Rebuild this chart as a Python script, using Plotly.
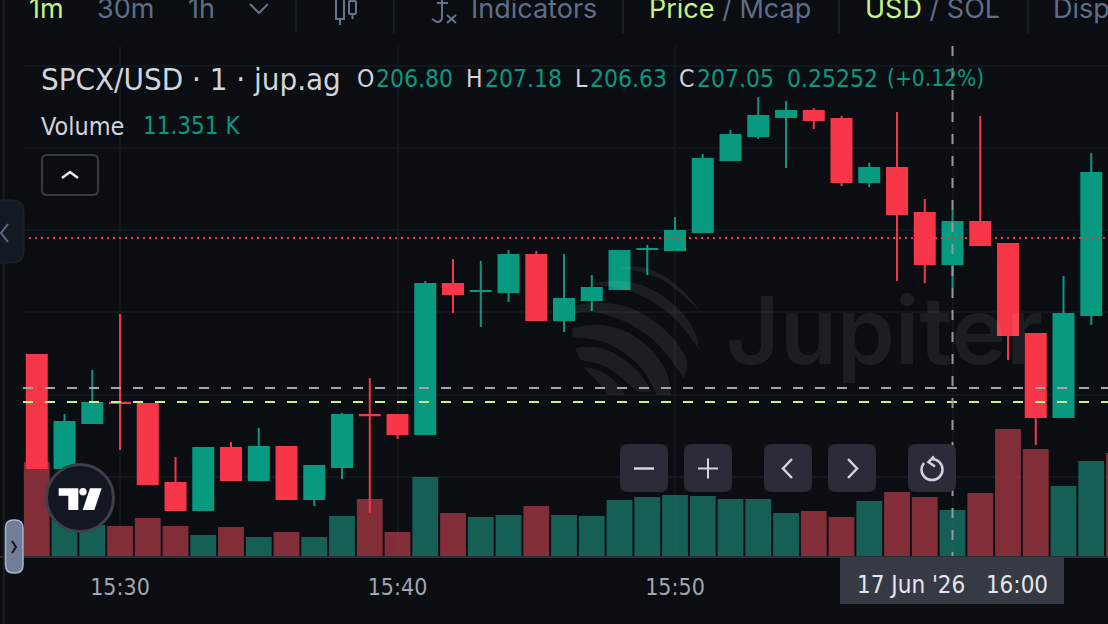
import pandas as pd
import plotly.graph_objects as go

W = 1108
PLOT_H = 556

BG = '#0a0d12'
GREEN = '#089981'
RED = '#f63649'
LIME = '#c7f284'
GREY = '#5f6e87'
LABEL = '#d1d4dc'
FONT = 'DejaVu Sans Condensed, DejaVu Sans'

# 1 minute candles, 15:27 to 16:05
times = pd.date_range('2026-06-17 15:27', periods=39, freq='min')
opens = [206.258, 205.586, 205.854, 205.974, 205.967, 205.496, 205.336, 205.705, 205.514, 205.711,
         205.401, 205.592, 205.901, 205.901, 205.788, 206.681, 206.639, 206.633, 206.854, 206.467,
         206.586, 206.651, 206.889, 206.883, 206.990, 207.419, 207.562, 207.675, 207.711, 207.663,
         207.288, 207.371, 207.104, 206.800, 207.050, 206.919, 206.383, 205.889, 206.496]
highs = [206.258, 205.907, 206.169, 206.502, 205.967, 205.651, 205.705, 205.740, 205.824, 205.711,
         205.598, 205.913, 206.121, 205.901, 206.699, 206.830, 206.818, 206.883, 206.877, 206.860,
         206.734, 206.877, 206.913, 207.080, 207.455, 207.598, 207.794, 207.770, 207.729, 207.681,
         207.401, 207.705, 207.187, 207.121, 207.681, 206.919, 206.383, 206.729, 207.461]
lows = [205.586, 205.586, 205.854, 205.693, 205.490, 205.336, 205.336, 205.514, 205.514, 205.401,
        205.360, 205.520, 205.318, 205.758, 205.788, 206.508, 206.425, 206.574, 206.467, 206.395,
        206.520, 206.651, 206.734, 206.883, 206.990, 207.419, 207.544, 207.371, 207.604, 207.264,
        207.258, 206.699, 206.687, 206.657, 206.913, 206.229, 205.723, 205.889, 206.437]
closes = [205.586, 205.860, 205.973, 205.973, 205.490, 205.336, 205.705, 205.514, 205.711, 205.401,
          205.598, 205.901, 205.900, 205.788, 206.681, 206.621, 206.640, 206.854, 206.467, 206.592,
          206.657, 206.877, 206.890, 206.996, 207.425, 207.568, 207.681, 207.711, 207.657, 207.288,
          207.371, 207.098, 206.800, 207.050, 206.913, 206.377, 205.889, 206.502, 207.342]

# volume in thousands, one more bar than candles (16:06 is cut by the right edge)
vol_times = pd.date_range('2026-06-17 15:27', periods=40, freq='min')
volumes = [23.2, 10.1, 7.65, 7.40, 9.38, 7.40, 5.18, 7.16, 4.69, 5.92,
           4.69, 9.87, 14.07, 5.92, 19.50, 10.61, 9.63, 10.12, 12.34, 10.12,
           9.87, 13.82, 14.56, 15.05, 14.81, 14.07, 14.07, 10.61, 11.11, 9.63,
           13.57, 15.80, 14.56, 11.351, 15.55, 31.34, 26.41, 17.28, 23.45, 25.42]
vol_up = [c >= o for o, c in zip(opens, closes)] + [False]

grid_prices = [207.979, 207.490, 207.002, 206.514, 206.020, 205.532]
grid_times = ['2026-06-17 15:30', '2026-06-17 15:40', '2026-06-17 15:50', '2026-06-17 16:00']
# 16:00 sits in the crosshair label instead
grid_labels = ['15:30', '15:40', '15:50', '']

last_price = 206.955
line_grey = 206.062
line_lime = 205.979
cross_time = '2026-06-17 16:00'


def P(x, y):
    return f'{x / W:.5f},{(PLOT_H - y) / PLOT_H:.5f}'


def rrect(x0, y0, x1, y1, r):
    return (f'M {P(x0 + r, y0)} L {P(x1 - r, y0)} Q {P(x1, y0)} {P(x1, y0 + r)} '
            f'L {P(x1, y1 - r)} Q {P(x1, y1)} {P(x1 - r, y1)} '
            f'L {P(x0 + r, y1)} Q {P(x0, y1)} {P(x0, y1 - r)} '
            f'L {P(x0, y0 + r)} Q {P(x0, y0)} {P(x0 + r, y0)} Z')


def poly(pts, close=False):
    s = 'M ' + ' L '.join(P(x, y) for x, y in pts)
    return s + ' Z' if close else s


def smooth(pts, start='M'):
    s = f'{start} {P(*pts[0])}'
    for a, b in zip(pts[1:-1], pts[2:]):
        m = ((a[0] + b[0]) / 2, (a[1] + b[1]) / 2)
        s += f' Q {P(*a)} {P(*m)}'
    return s + f' L {P(*pts[-1])}'


def band(outer, inner):
    o = [(560 + x / 3, 250 + y / 3) for x, y in outer]
    i = [(560 + x / 3, 250 + y / 3) for x, y in inner]
    return smooth(o) + ' ' + smooth(i, 'L') + ' Z'


shapes = []


def add_path(path, fill=None, line=None, width=0):
    shapes.append(dict(type='path', xref='paper', yref='paper', path=path, layer='above',
                       fillcolor=fill or 'rgba(0,0,0,0)',
                       line=dict(color=line or 'rgba(0,0,0,0)', width=width)))


def add_rect(x0, y0, x1, y1, fill):
    shapes.append(dict(type='rect', xref='paper', yref='paper', layer='above', fillcolor=fill,
                       x0=x0 / W, x1=x1 / W, y0=(PLOT_H - y0) / PLOT_H, y1=(PLOT_H - y1) / PLOT_H,
                       line=dict(width=0)))


# covers so the grid stops where it does in the app
add_rect(0, 0, 23, 556, BG)
add_rect(23, 0, W, 46, BG)

# watermark logo
WM = 'rgba(255,255,255,0.07)'
add_path(band([(175, 52), (235, 45), (310, 72), (380, 130), (425, 190)],
              [(425, 190), (340, 105), (260, 68), (175, 52)]), WM)
add_path(band([(85, 102), (165, 85), (270, 110), (360, 175), (410, 250), (417, 300)],
              [(417, 300), (370, 225), (290, 160), (190, 112), (85, 102)]), WM)
add_path(band([(45, 165), (120, 152), (230, 175), (320, 240), (375, 310), (385, 350), (370, 385)],
              [(370, 385), (320, 305), (240, 235), (150, 195), (85, 183), (45, 190)]), WM)
add_path(band([(36, 235), (100, 218), (200, 240), (280, 300), (325, 370), (333, 435)],
              [(290, 435), (265, 375), (200, 310), (120, 268), (38, 262)]), WM)
add_path(band([(45, 295), (95, 285), (170, 310), (235, 360), (275, 425)],
              [(230, 425), (180, 375), (120, 340), (60, 330)]), WM)
add_path(band([(70, 352), (115, 355), (170, 395), (195, 435)],
              [(145, 435), (110, 392)]), WM)

# price lines
shapes.append(dict(type='line', xref='paper', yref='y2', x0=29 / W, x1=1, y0=last_price, y1=last_price,
                   layer='above', line=dict(color='#f23645', width=2, dash='2px,4px')))
shapes.append(dict(type='line', xref='paper', yref='y2', x0=23 / W, x1=1, y0=line_grey, y1=line_grey,
                   layer='above', line=dict(color='#a2a5ad', width=2, dash='10px,12px')))
shapes.append(dict(type='line', xref='paper', yref='y2', x0=23 / W, x1=1, y0=line_lime, y1=line_lime,
                   layer='above', line=dict(color=LIME, width=2, dash='10px,12px')))
# crosshair
shapes.append(dict(type='line', xref='x', yref='paper', x0=cross_time, x1=cross_time,
                   y0=(PLOT_H - 46) / PLOT_H, y1=0, layer='above',
                   line=dict(color='#9598a1', width=2, dash='10px,12px')))

# bottom edge, date label
add_rect(840, 557, 1064, 604, '#363a45')

# left side
add_rect(3, 0, 4.5, 624, '#1b2027')
add_path(rrect(-12, 200, 24, 263, 12), '#131a23', '#1d2530', 1)
add_path(poly([(8, 224), (1, 233), (8, 242)]), None, '#5f6e87', 2)
add_path(rrect(5.5, 520, 23, 573, 8), '#6f7e99', '#a9b5c9', 1.5)
add_path(poly([(12, 541), (16, 547), (12, 553)]), None, '#10141c', 2)

# collapse button
add_path(rrect(42, 155, 98, 195, 5), BG, '#363a45', 2)
add_path(poly([(62, 178), (70, 172), (78, 178)]), None, '#e4e6ec', 2.5)

# tradingview badge
shapes.append(dict(type='circle', xref='paper', yref='paper', layer='above', fillcolor='#131722',
                   x0=46.5 / W, x1=113.5 / W, y0=(PLOT_H - 464.5) / PLOT_H, y1=(PLOT_H - 531.5) / PLOT_H,
                   line=dict(color='#3e4049', width=3)))
add_path(poly([(58.7, 488.3), (78.3, 488.3), (78.3, 510), (68.3, 510), (68.3, 495.7), (58.7, 495.7)], True), '#ffffff')
shapes.append(dict(type='circle', xref='paper', yref='paper', layer='above', fillcolor='#ffffff',
                   x0=79.3 / W, x1=86.7 / W, y0=(PLOT_H - 488) / PLOT_H, y1=(PLOT_H - 495.4) / PLOT_H,
                   line=dict(width=0)))
add_path(poly([(90, 488.3), (101.7, 488.3), (94.3, 510), (82.7, 510)], True), '#ffffff')

# zoom and scroll buttons
for x0 in [620, 684, 764, 828, 908]:
    add_path(rrect(x0, 444, x0 + 48, 492, 8), '#2a2d38')
ICON = '#d1d4dc'
add_path(poly([(634, 468.5), (654, 468.5)]), None, ICON, 2.5)
add_path(poly([(698, 468.5), (718, 468.5)]), None, ICON, 2)
add_path(poly([(708, 458.5), (708, 478.5)]), None, ICON, 2)
add_path(poly([(792, 459), (783, 468.5), (792, 478)]), None, ICON, 2.5)
add_path(poly([(848, 459), (857, 468.5), (848, 478)]), None, ICON, 2.5)
add_path(f'M {P(932, 459)} C {P(938, 459)} {P(942.5, 464)} {P(942.5, 469.5)} '
         f'C {P(942.5, 475.5)} {P(938, 480)} {P(932, 480)} '
         f'C {P(926, 480)} {P(921.5, 475.5)} {P(921.5, 469.5)} '
         f'C {P(921.5, 467)} {P(922.5, 465)} {P(924, 463)}', None, ICON, 2.5)
add_path(poly([(934, 456.5), (928.5, 462), (935, 466.5)]), None, ICON, 2.5)

# toolbar
for x in [296, 394, 623, 839, 1028]:
    add_path(poly([(x, 0), (x, 33)]), None, '#1c2530', 1.5)
TB = '#64748b'
add_path(poly([(250, 4), (259, 13), (268, 4)]), None, TB, 2)
add_path(poly([(336, 0), (336, 19), (344, 19), (344, 0)]), None, TB, 2)
add_path(poly([(340, 19), (340, 25)]), None, TB, 2)
add_path(rrect(349, 1, 356, 14, 1), None, TB, 2)
add_path(poly([(352.5, 14), (352.5, 19)]), None, TB, 2)
add_path(f'M {P(442, 0)} L {P(442, 17)} Q {P(442, 22)} {P(437, 22)} L {P(432, 19)}', None, TB, 2)
add_path(poly([(437, 3), (448, 3)]), None, TB, 2)
add_path(poly([(447, 15), (456, 23)]), None, TB, 2)
add_path(poly([(456, 15), (447, 23)]), None, TB, 2)

annotations = []


def label(x, y, text, size, color, family=FONT, anchor='left', weight=None):
    font = dict(family=family, size=size, color=color)
    if weight:
        font['weight'] = weight
    annotations.append(dict(xref='paper', yref='paper', x=x / W, y=(PLOT_H - y) / PLOT_H, text=text,
                            showarrow=False, xanchor=anchor, yanchor='middle', font=font,
                            borderpad=0, borderwidth=0))


# watermark text
label(726, 330, 'Jupiter', 93, WM, 'Inter', weight=600)


# toolbar text
def span(c, t):
    return f'<span style="color:{c}">{t}</span>'


label(29, 8, '1m', 27, LIME, 'Inter')
label(97, 8, '30m', 27, GREY, 'Inter')
label(188, 8, '1h', 27, GREY, 'Inter')
label(471, 8, 'Indicators', 27, GREY, 'Inter')
label(649, 8, span(LIME, 'Price') + span(GREY, ' / Mcap'), 27, GREY, 'Inter')
label(865, 8, span(LIME, 'USD') + span(GREY, ' / SOL'), 27, GREY, 'Inter')
label(1053, 8, 'Disp', 27, GREY, 'Inter')

# legend
label(41, 79, 'SPCX/USD · 1 · jup.ag', 31, LABEL)
label(357, 78, 'O', 24.5, LABEL)
label(376, 78, '206.80', 24.5, GREEN)
label(466, 78, 'H', 24.5, LABEL)
label(485, 78, '207.18', 24.5, GREEN)
label(575, 78, 'L', 24.5, LABEL)
label(590, 78, '206.63', 24.5, GREEN)
label(679, 78, 'C', 24.5, LABEL)
label(697, 78, '207.05', 24.5, GREEN)
label(787, 78, '0.25252', 24.5, GREEN)
label(887, 78, '(+0.12%)', 22.5, GREEN)
label(41, 126, 'Volume', 25, LABEL)
label(143, 126, '11.351 K', 24, GREEN)

# crosshair date
label(952, 585, "17 Jun '26 &nbsp; 16:00", 24, '#e4e6ec', anchor='center')

fig = go.Figure()
fig.add_trace(go.Bar(
    x=vol_times, y=volumes, width=55800, yaxis='y',
    marker=dict(color=['rgba(25,111,96,0.85)' if u else 'rgba(152,53,63,0.85)' for u in vol_up],
                line=dict(width=0)),
    hoverinfo='skip', showlegend=False,
))
fig.add_trace(go.Candlestick(
    x=times, open=opens, high=highs, low=lows, close=closes, yaxis='y2',
    whiskerwidth=0,
    increasing=dict(line=dict(color=GREEN, width=2), fillcolor=GREEN),
    decreasing=dict(line=dict(color=RED, width=2), fillcolor=RED),
    hoverinfo='skip', showlegend=False,
))

fig.update_layout(
    width=W, height=624,
    margin=dict(l=0, r=0, t=0, b=68, pad=0),
    paper_bgcolor=BG, plot_bgcolor=BG,
    showlegend=False,
    boxgap=0.2, boxgroupgap=0.1,
    shapes=shapes,
    annotations=annotations,
    xaxis=dict(
        type='date',
        range=['2026-06-17 15:25:40.5', '2026-06-17 16:05:36.2'],
        rangeslider=dict(visible=False),
        tickmode='array', tickvals=grid_times, ticktext=grid_labels,
        showgrid=True, gridcolor='#12171e', gridwidth=2,
        showline=True, linecolor='#2a2e39', linewidth=2,
        ticks='', zeroline=False,
        tickfont=dict(family=FONT, size=23, color='#a3a6af'),
        ticklabelstandoff=9,
    ),
    yaxis=dict(range=[0, 137.2], showgrid=False, showticklabels=False, zeroline=False, ticks=''),
    yaxis2=dict(range=[205.0619, 208.3714], overlaying='y', side='right', showticklabels=False,
                tickmode='array', tickvals=grid_prices,
                showgrid=True, gridcolor='#12171e', gridwidth=2, zeroline=False, ticks=''),
)

fig.write_html('out.html', config=dict(displayModeBar=False), post_script="document.body.style.margin='0'")
